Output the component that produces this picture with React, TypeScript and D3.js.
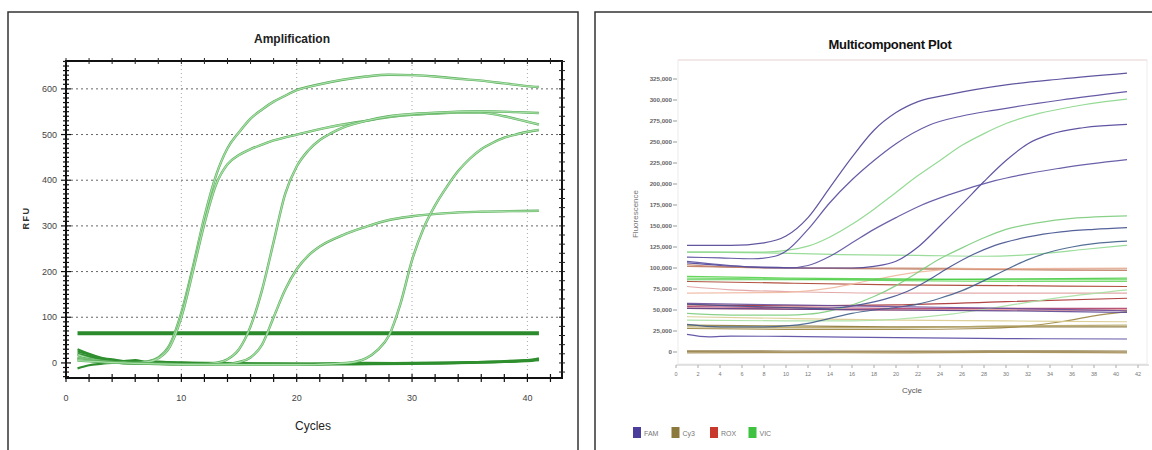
import React from "react";
import * as d3 from "d3";

type Pt = [number, number];

// ---------- Amplification (left panel) ----------
const ampXTicks = [0, 10, 20, 30, 40];
const ampYTicks = [0, 100, 200, 300, 400, 500, 600];
const ampThreshold = 65;
const ampThresholdSpan = [1, 41];

const ampCurve1: Pt[] = [[1, 18], [2, 10], [3, 5], [4, 2], [5, 0], [6, 0], [7, 3], [8, 12], [9, 40], [10, 110], [11, 210], [12, 320], [13, 410], [14, 470], [15, 505], [16, 535], [17, 555], [18, 572], [19, 585], [20, 597], [22, 610], [24, 620], [26, 627], [28, 631], [30, 630], [32, 627], [34, 622], [36, 618], [38, 612], [40, 606], [41, 604]];
const ampCurve2: Pt[] = [[1, 12], [2, 8], [3, 4], [4, 2], [5, 1], [6, 0], [7, 2], [8, 10], [9, 35], [10, 100], [11, 200], [12, 305], [13, 390], [14, 435], [15, 455], [16, 468], [17, 478], [18, 487], [20, 500], [22, 512], [24, 522], [26, 530], [28, 538], [30, 543], [32, 546], [34, 548], [36, 548], [38, 540], [40, 528], [41, 522]];
const ampCurve3: Pt[] = [[1, 10], [3, 3], [5, 0], [8, -2], [10, -3], [12, -2], [13, 0], [14, 8], [15, 30], [16, 80], [17, 160], [18, 265], [19, 370], [20, 430], [21, 465], [22, 488], [23, 503], [24, 515], [26, 530], [28, 540], [30, 545], [33, 549], [36, 551], [39, 549], [41, 547]];
const ampCurve4: Pt[] = [[1, 8], [3, 2], [5, 0], [8, -2], [12, -3], [14, -2], [15, 2], [16, 12], [17, 40], [18, 100], [19, 160], [20, 205], [21, 235], [22, 255], [24, 280], [26, 298], [28, 313], [30, 321], [33, 328], [36, 331], [41, 333]];
const ampCurve5: Pt[] = [[1, 5], [5, 0], [10, -3], [15, -4], [20, -4], [23, -2], [25, 2], [26, 10], [27, 28], [28, 60], [29, 130], [30, 225], [31, 295], [32, 345], [33, 385], [34, 420], [35, 447], [36, 468], [37, 482], [38, 493], [39, 500], [40, 506], [41, 510]];

const ampBase1: Pt[] = [[1, 30], [2, 20], [3, 12], [4, 6], [5, 2], [6, 0], [8, -1], [10, -2], [15, -3], [20, -4], [25, -3], [30, -2], [35, 0], [38, 2], [40, 5], [41, 8]];
const ampBase2: Pt[] = [[1, -12], [2, -5], [3, -2], [4, 0], [6, 1], [10, 0], [15, -2], [20, -2], [25, -1], [30, 0], [35, 2], [40, 4], [41, 6]];
const ampBase3: Pt[] = [[1, 20], [2, 14], [3, 8], [5, 4], [8, 2], [12, 0], [18, -1], [25, -2], [30, -1], [36, 1], [40, 6], [41, 10]];
const ampBase4: Pt[] = [[1, 25], [2, 18], [3, 10], [4, 8], [5, 4], [6, 6], [7, 2], [8, 3], [10, 0], [14, -1], [20, -3], [26, 0], [32, -1], [38, 4], [41, 7]];

const ampSigmoids = [ampCurve1, ampCurve2, ampCurve3, ampCurve4, ampCurve5];
const ampBaselines = [ampBase1, ampBase2, ampBase3, ampBase4];

// ---------- Multicomponent Plot (right panel), values in thousands ----------
const mcXTicks = [0, 2, 4, 6, 8, 10, 12, 14, 16, 18, 20, 22, 24, 26, 28, 30, 32, 34, 36, 38, 40, 42];
const mcYTicks = [0, 25, 50, 75, 100, 125, 150, 175, 200, 225, 250, 275, 300, 325];

const dyeNames = ["FAM", "Cy3", "ROX", "VIC"];
const dyeColors = ["#4b3d9c", "#8c7a3c", "#c8382c", "#3fc23f"];

const famSeries: Pt[][] = [
  [[1, 127], [5, 127], [8, 130], [10, 138], [12, 160], [14, 196], [16, 232], [18, 264], [20, 285], [22, 298], [25, 307], [30, 318], [35, 325], [41, 332]],
  [[1, 113], [4, 112], [7, 111], [9, 114], [10, 120], [12, 146], [14, 178], [16, 205], [18, 228], [20, 248], [23, 270], [26, 281], [29, 288], [35, 300], [41, 310]],
  [[1, 106], [4, 103], [8, 101], [12, 100], [16, 100], [18, 102], [20, 108], [22, 125], [24, 150], [26, 176], [28, 203], [30, 228], [32, 248], [34, 259], [37, 267], [41, 271]],
  [[1, 108], [4, 104], [7, 101], [10, 100], [12, 103], [14, 114], [16, 130], [18, 146], [20, 160], [22, 173], [25, 188], [29, 204], [35, 219], [41, 229]],
  [[1, 57], [5, 55], [10, 53], [13, 52], [15, 53], [17, 57], [19, 63], [21, 72], [23, 86], [25, 102], [27, 116], [29, 127], [32, 137], [35, 143], [38, 146], [41, 148]],
  [[1, 33], [4, 30], [8, 30], [10, 31], [12, 34], [14, 40], [16, 46], [18, 50], [20, 53], [22, 57], [24, 64], [26, 73], [28, 85], [30, 98], [32, 110], [34, 119], [36, 125], [38, 129], [41, 132]],
  [[1, 21], [3, 18], [5, 19], [10, 18.5], [20, 17], [30, 16], [41, 15.5]],
  [[1, 58], [10, 56], [20, 54], [30, 52], [41, 49]],
  [[1, 52], [10, 51], [20, 50], [30, 49], [41, 47]],
];
const cy3Series: Pt[][] = [
  [[1, 0.5], [10, 0], [20, 0], [30, 0.3], [41, 0]],
  [[1, -1], [10, -0.8], [20, -1], [30, -0.5], [41, -1]],
  [[1, 1.5], [10, 1.2], [20, 1], [30, 1.4], [41, 1.2]],
  [[1, 32], [10, 31], [20, 30], [30, 30], [41, 30]],
  [[1, 28], [10, 27], [20, 27], [28, 28], [32, 31], [35, 36], [38, 43], [41, 48]],
  [[1, 42], [10, 40], [20, 38], [30, 37], [41, 36]],
  [[1, 30], [10, 29], [20, 29], [30, 31], [41, 32]],
];
const roxSeries: Pt[][] = [
  [[1, 104], [5, 101], [10, 100], [20, 100], [30, 99], [41, 99]],
  [[1, 102], [10, 100], [20, 99], [30, 98], [41, 97]],
  [[1, 84], [10, 82], [20, 80], [30, 79], [41, 78]],
  [[1, 78], [5, 74], [10, 72], [20, 70], [30, 70], [41, 70]],
  [[1, 56], [10, 55], [20, 56], [30, 60], [41, 64]],
  [[1, 52], [10, 51], [20, 50], [30, 50], [41, 50]],
  [[1, 54], [10, 53], [20, 52], [41, 52]],
  [[1, 70], [10, 71], [14, 76], [18, 86], [22, 95], [26, 99], [41, 100]],
];
const vicSeries: Pt[][] = [
  [[1, 119], [5, 119], [8, 119], [10, 121], [12, 126], [14, 137], [16, 152], [18, 170], [20, 190], [22, 210], [24, 228], [26, 246], [28, 260], [30, 272], [33, 284], [36, 292], [39, 298], [41, 301]],
  [[1, 46], [5, 44], [10, 44], [12, 45], [14, 49], [16, 56], [18, 66], [20, 79], [22, 95], [24, 111], [26, 124], [28, 136], [30, 146], [33, 154], [36, 159], [41, 162]],
  [[1, 119], [8, 118], [15, 116], [22, 115], [28, 114], [31, 115], [34, 118], [37, 122], [41, 127]],
  [[1, 38], [10, 37], [16, 37], [20, 39], [25, 45], [30, 55], [35, 65], [41, 74]],
  [[1, 90], [10, 88], [20, 87], [30, 86], [41, 86]],
  [[1, 88], [10, 87], [20, 85], [30, 84], [41, 84]],
  [[1, 86], [10, 86], [20, 86], [30, 87], [41, 88]],
];

const lineShades: Record<string, string[]> = {
  FAM: ["#4f4496", "#55499c", "#4f4399", "#5a50a0", "#44518f", "#435f8a", "#5548a0", "#6a4f9c", "#5d4892"],
  Cy3: ["#9b8550", "#a58f58", "#8f7a42", "#8a7636", "#9a8440", "#d9cc8e", "#b6a466"],
  ROX: ["#c48a6e", "#c07a60", "#a8402e", "#e0a0a0", "#a83030", "#c83a3a", "#b0406a", "#f0b8a0"],
  VIC: ["#8ad68a", "#7ccc7c", "#8fd88f", "#a6e0a0", "#55d24a", "#6bd860", "#48cc48"],
};

export default function App() {
  const fontFamily = "'Liberation Sans', Arial, sans-serif";

  // left scales
  const ax = d3.scaleLinear().domain([0, 43]).range([66, 562]);
  const ay = d3.scaleLinear().domain([-33, 661]).range([378, 61]);
  const ampLine = d3.line<Pt>().x(d => ax(d[0])).y(d => ay(d[1])).curve(d3.curveMonotoneX);

  // right scales
  const mx = d3.scaleLinear().domain([0, 43]).range([676, 1149]);
  const my = d3.scaleLinear().domain([0, 325]).range([352, 79]);
  const mcLine = d3.line<Pt>().x(d => mx(d[0])).y(d => my(d[1])).curve(d3.curveMonotoneX);

  const [ax0, ax1] = ax.range();
  const [ay0, ay1] = ay.range();

  const minorY = d3.range(-30, 661, 10);
  const minorX = d3.range(0, 44, 2);

  const groups = [
    { name: "Cy3", series: cy3Series },
    { name: "ROX", series: roxSeries },
    { name: "VIC", series: vicSeries },
    { name: "FAM", series: famSeries },
  ];

  return (
    <svg width={1152} height={450} style={{ position: "absolute", left: 0, top: 0, display: "block" }} fontFamily={fontFamily}>
      <rect width={1152} height={450} fill="#fff" />

      {/* ===== left panel ===== */}
      <rect x={8} y={12} width={570} height={460} fill="none" stroke="#333" strokeWidth={1.5} />
      <text x={292} y={43} textAnchor="middle" fontSize={12} fontWeight={600} fill="#222">Amplification</text>

      {/* grid */}
      {ampYTicks.filter(t => t > 0).map(t => (
        <line key={"gy" + t} x1={ax0} x2={ax1} y1={ay(t)} y2={ay(t)} stroke="#666" strokeWidth={1} strokeDasharray="2,3" />
      ))}
      {ampXTicks.filter(t => t > 0).map(t => (
        <line key={"gx" + t} x1={ax(t)} x2={ax(t)} y1={ay1} y2={ay0} stroke="#aaa" strokeWidth={1} strokeDasharray="1,3" />
      ))}

      {/* frame + ticks */}
      <rect x={ax0} y={ay1} width={ax1 - ax0} height={ay0 - ay1} fill="none" stroke="#111" strokeWidth={2} />
      {minorY.map(v => {
        const major = v % 100 === 0;
        const len = major ? 5 : 3;
        return (
          <g key={"ty" + v}>
            <line x1={ax0 - len} x2={ax0 + len} y1={ay(v)} y2={ay(v)} stroke="#111" strokeWidth={1.2} />
            {v % 20 === 0 && <line x1={ax1 - 3} x2={ax1 + 3} y1={ay(v)} y2={ay(v)} stroke="#222" strokeWidth={1} />}
          </g>
        );
      })}
      {minorX.map(c => (
        <g key={"tx" + c}>
          <line x1={ax(c)} x2={ax(c)} y1={ay0 - 4} y2={ay0 + 4} stroke="#111" strokeWidth={1.2} />
          <line x1={ax(c)} x2={ax(c)} y1={ay1 - 3} y2={ay1 + 3} stroke="#222" strokeWidth={1} />
        </g>
      ))}

      {ampYTicks.map(t => (
        <text key={"ly" + t} x={57} y={ay(t) + 3} textAnchor="end" fontSize={9} fill="#444">{t}</text>
      ))}
      {ampXTicks.map(t => (
        <text key={"lx" + t} x={ax(t)} y={401} textAnchor="middle" fontSize={9} fill="#444">{t}</text>
      ))}
      <text x={313} y={430} textAnchor="middle" fontSize={12} fill="#222">Cycles</text>
      <text transform="translate(29,218) rotate(-90)" textAnchor="middle" fontSize={9} fontWeight="bold" letterSpacing={1.5} fill="#333">RFU</text>

      {/* threshold */}
      <line x1={ax(ampThresholdSpan[0])} x2={ax(ampThresholdSpan[1])} y1={ay(ampThreshold)} y2={ay(ampThreshold)} stroke="#2b8a2b" strokeWidth={4} />

      {/* baselines */}
      {ampBaselines.map((s, i) => (
        <path key={"ab" + i} d={ampLine(s) || ""} fill="none" stroke="#2f8f2f" strokeWidth={2.2} />
      ))}
      {/* amplification curves */}
      {ampSigmoids.map((s, i) => (
        <g key={"as" + i}>
          <path d={ampLine(s) || ""} fill="none" stroke="#5aac5a" strokeWidth={2.4} />
          <path d={ampLine(s) || ""} fill="none" stroke="#a6dfa6" strokeWidth={1.3} />
        </g>
      ))}

      {/* ===== right panel ===== */}
      <rect x={595} y={12} width={600} height={460} fill="none" stroke="#333" strokeWidth={1.5} />
      <text x={890} y={49} textAnchor="middle" fontSize={13} fontWeight="bold" fill="#111" letterSpacing={-0.3}>Multicomponent Plot</text>

      <rect x={678} y={60} width={469} height={304} fill="#fff" stroke="#ececec" strokeWidth={1} />
      <line x1={678} x2={1147} y1={60} y2={60} stroke="#f2dcdc" strokeWidth={1} />
      <line x1={mx(0)} x2={mx(43)} y1={365} y2={365} stroke="#c8c8c8" strokeWidth={1} />

      {mcYTicks.map(t => (
        <g key={"my" + t}>
          <line x1={673} x2={677} y1={my(t)} y2={my(t)} stroke="#999" strokeWidth={1} />
          <text x={672} y={my(t) + 2.2} textAnchor="end" fontSize={6.2} fontWeight="bold" fill="#666">{d3.format(",")(t * 1000)}</text>
        </g>
      ))}
      {mcXTicks.map(t => (
        <g key={"mx" + t}>
          <line x1={mx(t)} x2={mx(t)} y1={365} y2={368} stroke="#aaa" strokeWidth={1} />
          <text x={mx(t)} y={376} textAnchor="middle" fontSize={5.5} fill="#777">{t}</text>
        </g>
      ))}
      <text x={912} y={393} textAnchor="middle" fontSize={8} fill="#555">Cycle</text>
      <text transform="translate(638,214) rotate(-90)" textAnchor="middle" fontSize={8} fill="#777">Fluorescence</text>

      {groups.map(g => (
        <g key={g.name}>
          {g.series.map((s, i) => (
            <path key={g.name + i} d={mcLine(s) || ""} fill="none"
              stroke={lineShades[g.name][i % lineShades[g.name].length]}
              strokeWidth={1.2} strokeOpacity={0.9} />
          ))}
        </g>
      ))}

      {/* legend */}
      {dyeNames.map((n, i) => {
        const x0 = 633 + i * 38.5;
        return (
          <g key={"lg" + n}>
            <rect x={x0} y={427} width={8} height={11} fill={dyeColors[i]} />
            <text x={x0 + 11} y={435.5} fontSize={7} fill="#777">{n}</text>
          </g>
        );
      })}
    </svg>
  );
}
